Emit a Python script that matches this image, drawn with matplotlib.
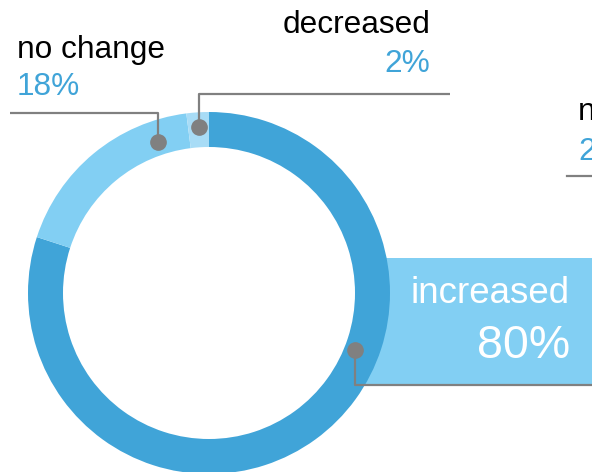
import numpy as np
import matplotlib.pyplot as plt
from matplotlib.patches import Rectangle

# answer shares, in the order drawn clockwise from 12 o'clock
labels = ["increased", "no change", "decreased"]
shares = [80, 18, 2]
colors = ["#40A4D8", "#82CFF3", "#A8DCF6"]

W, H = 592, 472
cx, cy = 209, H - 293
r_out, ring_w = 181, 35
r_mid = r_out - ring_w / 2

GREY = "#808080"
PCT = "#40A4D8"

plt.rcParams["font.family"] = ["Liberation Sans", "DejaVu Sans"]

fig = plt.figure(figsize=(W / 100, H / 100), dpi=100)
ax = fig.add_axes([0, 0, 1, 1])

# box behind the "increased" label
ax.add_patch(Rectangle((355, H - 385), 250, 127, color="#82CFF3", zorder=1, lw=0))

wedges, _ = ax.pie(shares, colors=colors, radius=r_out, center=(cx, cy),
                   startangle=90, counterclock=False,
                   wedgeprops=dict(width=ring_w, linewidth=0))
for w in wedges:
    w.set_zorder(2)

ax.set_xlim(0, W)
ax.set_ylim(0, H)
ax.set_aspect("equal")
ax.axis("off")


def on_ring(angle, r=r_mid):
    a = np.deg2rad(angle)
    return cx + r * np.cos(a), cy + r * np.sin(a)


def leader(angle, r, path):
    # dot on the ring, then a vertical run and a horizontal run
    x0, y0 = on_ring(angle, r)
    xs = [x0, x0] + [p[0] for p in path[1:]]
    ys = [y0, H - path[0][1]] + [H - p[1] for p in path[1:]]
    ax.plot(xs, ys, color=GREY, lw=1.6, zorder=3, solid_capstyle="butt")
    ax.plot(x0, y0, "o", color=GREY, ms=11, zorder=4)


# where each wedge sits on the ring
bounds = 90 - np.cumsum([0] + shares) * 3.6
mid = (bounds[:-1] + bounds[1:]) / 2

# increased
leader(-21.3, 157, [(None, 385), (W, 385)])
ax.text(570, H - 303, labels[0], color="white", fontsize=26.5, ha="right", va="baseline", zorder=5)
ax.text(570, H - 358, f"{shares[0]}%", color="white", fontsize=33.5, ha="right", va="baseline", zorder=5)

# no change
leader(108.7, 159, [(None, 113), (10, 113)])
ax.text(17, H - 58, labels[1], color="black", fontsize=22.8, ha="left", va="baseline")
ax.text(17, H - 95, f"{shares[1]}%", color=PCT, fontsize=22.8, ha="left", va="baseline")

# decreased
leader(mid[2], 166, [(None, 94), (450, 94)])
ax.text(430, H - 33, labels[2], color="black", fontsize=22.8, ha="right", va="baseline")
ax.text(430, H - 72, f"{shares[2]}%", color=PCT, fontsize=22.8, ha="right", va="baseline")

# next panel's label running in from the right
ax.plot([567, W], [H - 176, H - 176], color=GREY, lw=1.6)
ax.text(578, H - 120, "no answer", color="black", fontsize=22.8, ha="left", va="baseline")
ax.text(578, H - 160, "2%", color=PCT, fontsize=22.8, ha="left", va="baseline")

fig.savefig("out.png", dpi=100)
